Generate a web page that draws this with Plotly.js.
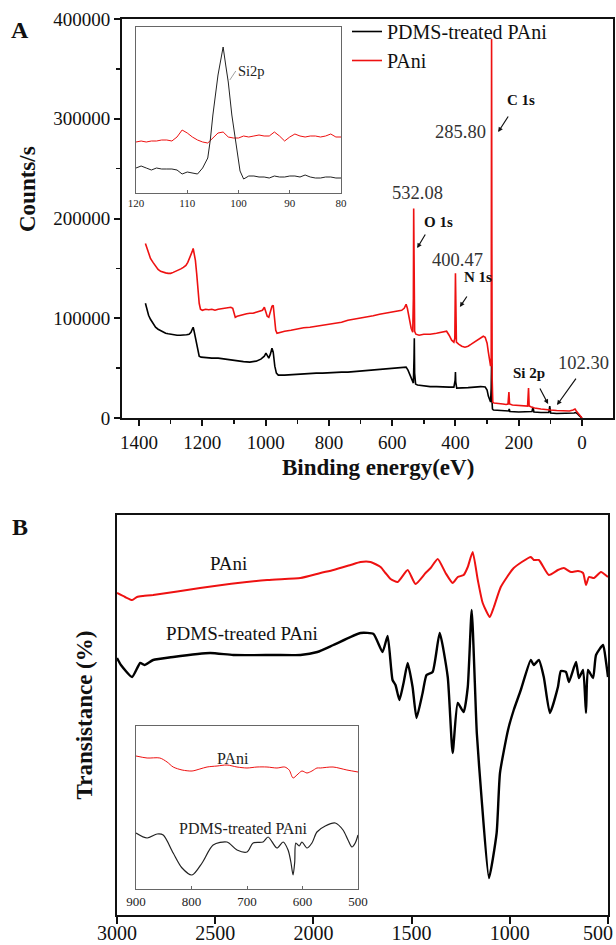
<!DOCTYPE html>
<html><head><meta charset="utf-8">
<script src="https://cdn.plot.ly/plotly-3.0.1.min.js"></script>
<style>html,body{margin:0;padding:0;background:#fff}#chart{width:616px;height:945px}</style>
</head><body><div id="chart"></div>
<script>
// ---------- Panel A: XPS survey (Binding energy eV, Counts/s) ----------
const xpsPAniX = [1380,1376,1370,1364,1356,1348,1340,1332,1324,1316,1308,1300,1292,1284,1276,1268,1260,1252,1246,1240,1236,1232,1229,1226,1222,1218,1214,1210,1206,1200,1190,1180,1170,1160,1150,1140,1130,1120,1110,1104,1100,1096,1090,1080,1070,1060,1050,1040,1030,1020,1010,1004,1000,995,990,985,980,976,972,968,964,955,940,920,900,880,860,840,820,800,780,760,740,720,700,680,660,640,620,600,580,570,562,556,552,546,540,535,533,532,531,529,525,515,500,480,460,440,428,420,412,405,402,400,399,397,390,380,370,360,350,340,330,320,312,306,300,296,292,289,287,286,285.8,285,284,282,278,270,260,250,240,234,231,229,220,200,180,172,169,167,160,150,130,110,100,80,60,40,28,22,18,10,4,0];
const xpsPAniY = [175000,171000,165000,160000,156000,152000,149000,147000,146000,145500,145000,145000,146000,147000,148000,149500,151000,153000,156000,160000,163000,167000,170000,166000,158000,145000,128000,115000,109000,108000,109000,108500,109000,108000,109000,109500,110000,110500,111000,110000,104000,101000,102000,103000,104000,104500,105000,105000,106000,107000,108000,111000,106000,102000,101000,106000,112000,113000,100000,88000,85000,86000,87000,88000,89500,90500,91000,92000,92500,94000,95000,96000,98000,99000,100000,101000,102500,104000,105000,106000,107000,108000,110000,114000,110000,100000,90000,86000,120000,210000,130000,87000,84000,83000,84000,84000,85000,86000,87000,83000,78000,76000,80000,145000,110000,76000,74000,72000,71000,72000,74000,76000,78000,80000,82000,81000,75000,66000,57000,52000,60000,250000,380000,200000,40000,16000,15000,14500,14000,14000,13500,14000,26000,14000,13000,12500,12000,12000,30000,12000,11000,10000,9000,8000,8000,7500,7000,7000,8000,9000,7000,4000,1500,0];
const xpsPDMSX = [1380,1376,1370,1364,1356,1348,1340,1332,1324,1316,1308,1300,1290,1280,1270,1260,1250,1242,1236,1232,1229,1226,1222,1218,1214,1210,1204,1190,1170,1150,1130,1110,1090,1070,1050,1030,1015,1004,999,995,990,985,980,976,971,966,960,940,920,900,880,860,840,820,800,780,760,740,720,700,680,660,640,620,600,580,565,556,550,543,537,533,531,530,529,526,520,500,480,460,440,420,405,401,400,399,396,380,360,340,320,306,300,296,292,289,287,285.8,285,283,280,260,240,232,230,228,200,170,158,155,152,130,105,102,99,80,60,40,25,20,15,8,2,0];
const xpsPDMSY = [115000,109000,103000,99000,95000,91000,89000,87500,86000,85000,84500,84000,83500,83000,83000,83000,83500,84000,86000,89000,91000,87000,80000,72000,65000,62000,61000,60500,60000,60000,59000,58000,57000,56500,56000,57000,59000,62000,65000,62000,60000,64000,70000,66000,52000,45000,43000,43000,43500,44000,44500,44500,45000,45000,45500,45500,46000,46000,46500,47000,47500,48000,48500,49000,49500,50000,50500,51000,48000,43000,37000,35000,60000,80000,45000,34000,33000,32000,31500,31500,31000,31000,31000,38000,46000,36000,30000,30000,30500,31000,31500,31000,28000,22000,18000,16000,30000,55000,20000,9000,8000,7500,7000,7000,9000,6500,6000,6000,6500,11000,6000,5500,5500,12000,5000,4500,4500,4500,5000,5500,4500,2000,500,0];

// Inset A: Si2p region (eV, intensity a.u.)
const siPAniX = [120,119,118,117,116,115,114,113,112,111,110,109,108,107,106,105,104,103,102,101,100,99,98,97,96,95,94,93,92,91,90,89,88,87,86,85,84,83,82,81,80];
const siPAniY = [51,52,51,52,52,53,53,52,56,63,60,56,53,51,50,55,60,61,56,55,55,57,56,57,58,57,57,61,57,52,56,59,57,56,57,57,56,57,59,56,56];
const siPDMSX = [120,119,118,117,116,115,114,113,112,111,110,109,108,107,106,105.5,105,104,103,102.5,102,101.3,100.7,100.1,99.7,99,98,97,96,95,94,93,92,91,90,89,88,87,86,85,84,83,82,81,80];
const siPDMSY = [25,27,25,23,25,24,24,24,23,19,21,20,19,25,35,53,78,118,146,128,111,78,55,33,22,14,17,17,16,16,15,17,16,16,17,17,16,18,16,15,15,16,16,15,15];

// ---------- Panel B: FTIR (wavenumber cm-1, transmittance a.u.) ----------
const irTickVals = [3000, 2500, 2000, 1500, 1000, 500];
const irTickText = ['3000', '2500', '2000', '1500', '1000', '500'];
const irPAniX = [3000,2959,2923,2898,2867,2816,2577,2235,2066,1964,1898,1811,1760,1709,1658,1633,1607,1571,1520,1480,1429,1403,1367,1327,1291,1265,1235,1214,1189,1163,1138,1102,1081,1046,980,893,878,852,801,755,725,689,653,627,612,597,571,536,500];
const irPAniY = [322,318,315,318,319,320,327,335,337,342,345,350,353,353,348,342,336,333,345,331,342,347,356,342,332,338,340,348,363,335,312,298,308,328,347,358,355,355,340,345,347,343,344,342,330,338,337,343,338];
const irPDMSX = [3000,2980,2923,2882,2860,2816,2714,2526,2408,2200,2066,1980,1898,1760,1694,1648,1622,1597,1582,1562,1541,1520,1495,1475,1444,1424,1393,1357,1316,1291,1265,1235,1214,1194,1168,1143,1106,1067,1050,1009,980,944,893,878,852,827,796,755,740,714,699,663,648,627,612,602,576,561,525,510,500];
const irPDMSY = [257,250,238,252,250,255,258,262,260,260,260,263,270,282,281,263,279,235,230,215,232,252,228,197,222,240,243,282,238,162,212,203,228,305,182,115,37,82,142,185,205,225,255,250,255,238,202,228,244,243,233,253,237,245,202,245,237,260,270,253,238];

// Inset B: 900-500 cm-1
const insPAniX = [900,880,857,844,833,817,799,785,772,754,736,718,700,682,664,646,632,624,617,610,601,592,583,574,568,545,520,500];
const insPAniY = [133,131,131,127,122,119,118,120,122,123,124,122,121,122,122,121,122,119,111,114,118,116,118,121,121,122,119,117];
const insPDMSX = [900,880,862,851,833,817,799,781,761,736,718,700,689,671,662,646,635,626,621,617,614,612,606,601,592,583,574,559,541,527,518,511,505,500];
const insPDMSY = [56,51,55,54,36,21,14,26,44,47,39,37,46,47,52,41,47,39,27,14,27,46,43,47,41,46,57,63,66,59,49,42,46,54];

const RED = '#ee1111';
const FONT = 'Liberation Serif, Times New Roman, serif';
const W = 616, H = 945;
const px = v => v / W, py = v => 1 - v / H;
const lastIdx = irTickText.length - 1;
// the last label sits at the page edge: it is drawn right-aligned as an annotation instead
const irTickShown = irTickText.map((t, i) => i === lastIdx ? '' : t);

const traces = [
  {x: xpsPDMSX, y: xpsPDMSY, xaxis: 'x', yaxis: 'y', mode: 'lines', name: 'PDMS-treated PAni', line: {color: '#000', width: 1.6}},
  {x: xpsPAniX, y: xpsPAniY, xaxis: 'x', yaxis: 'y', mode: 'lines', name: 'PAni', line: {color: RED, width: 1.6}},
  {x: siPAniX, y: siPAniY, xaxis: 'x2', yaxis: 'y2', mode: 'lines', showlegend: false, line: {color: RED, width: 1}},
  {x: siPDMSX, y: siPDMSY, xaxis: 'x2', yaxis: 'y2', mode: 'lines', showlegend: false, line: {color: '#222', width: 1}},
  {x: irPAniX, y: irPAniY, xaxis: 'x3', yaxis: 'y3', mode: 'lines', showlegend: false, line: {color: RED, width: 2, shape: 'spline', smoothing: 0.5}},
  {x: irPDMSX, y: irPDMSY, xaxis: 'x3', yaxis: 'y3', mode: 'lines', showlegend: false, line: {color: '#000', width: 2.4, shape: 'spline', smoothing: 0.5}},
  {x: insPAniX, y: insPAniY, xaxis: 'x4', yaxis: 'y4', mode: 'lines', showlegend: false, line: {color: RED, width: 1, shape: 'spline', smoothing: 0.8}},
  {x: insPDMSX, y: insPDMSY, xaxis: 'x4', yaxis: 'y4', mode: 'lines', showlegend: false, line: {color: '#222', width: 1.2, shape: 'spline', smoothing: 0.8}}
];

const tickFont = {family: FONT, size: 19, color: '#111'};
function label(text, x, y, size, color, angle) {
  return {text: text, xref: 'paper', yref: 'paper', x: px(x), y: py(y), xanchor: 'center', yanchor: 'middle',
          textangle: angle || 0, showarrow: false, font: {family: FONT, size: size, color: color || '#111'}};
}
function arrow(x, y, ax, ay) {
  return {text: '', xref: 'x', yref: 'y', x: x, y: y, ax: ax, ay: ay, showarrow: true,
          arrowhead: 2, arrowsize: 0.8, arrowwidth: 1.2, arrowcolor: '#111'};
}
const lastTickLabel = label(irTickText[lastIdx], 615, 933, 20);
lastTickLabel.xanchor = 'right';

const layout = {
  width: W, height: H,
  margin: {l: 0, r: 0, t: 0, b: 0},
  paper_bgcolor: '#fff', plot_bgcolor: 'rgba(0,0,0,0)',
  font: {family: FONT, color: '#111'},
  showlegend: true,
  legend: {x: px(347), y: py(12), xanchor: 'left', yanchor: 'top', bgcolor: 'rgba(0,0,0,0)',
           font: {family: FONT, size: 20, color: '#111'}, tracegroupgap: 0},
  xaxis: {domain: [px(122), px(613)], range: [1454, -98], anchor: 'y',
          showline: true, linewidth: 2, linecolor: '#111', mirror: true,
          ticks: 'outside', ticklen: 6, tickwidth: 2, tickcolor: '#111', dtick: 200, tick0: 0,
          minor: {ticks: 'outside', ticklen: 4, tickwidth: 1.5, dtick: 100, tickcolor: '#111'},
          showgrid: false, zeroline: false, tickfont: tickFont},
  yaxis: {domain: [py(418), py(19)], range: [0, 400000], anchor: 'x',
          showline: true, linewidth: 2, linecolor: '#111', mirror: true,
          ticks: 'outside', ticklen: 6, tickwidth: 2, tickcolor: '#111', dtick: 100000, tickformat: 'd',
          minor: {ticks: 'outside', ticklen: 4, tickwidth: 1.5, dtick: 50000, tickcolor: '#111'},
          showgrid: false, zeroline: false, tickfont: tickFont},
  xaxis2: {domain: [px(136), px(341)], range: [120, 80], anchor: 'y2',
           showline: true, linewidth: 1, linecolor: '#666', mirror: true,
           ticks: 'inside', ticklen: 3, tickwidth: 1, tickcolor: '#666', dtick: 10,
           showgrid: false, zeroline: false, tickfont: {family: FONT, size: 11, color: '#222'}},
  yaxis2: {domain: [py(193), py(27)], range: [0, 166], anchor: 'x2',
           showline: true, linewidth: 1, linecolor: '#666', mirror: true,
           ticks: '', showticklabels: false, showgrid: false, zeroline: false},
  xaxis3: {domain: [px(117), px(608)], range: [3000, 500], anchor: 'y3',
           showline: true, linewidth: 2, linecolor: '#111', mirror: true,
           ticks: 'outside', ticklen: 7, tickwidth: 2, tickcolor: '#111',
           tickmode: 'array', tickvals: irTickVals, ticktext: irTickShown,
           ticklabelstandoff: -8,
           showgrid: false, zeroline: false, tickfont: {family: FONT, size: 20, color: '#111'}},
  yaxis3: {domain: [py(915), py(515)], range: [0, 400], anchor: 'x3',
           showline: true, linewidth: 2, linecolor: '#111', mirror: true,
           ticks: '', showticklabels: false, showgrid: false, zeroline: false,
           title: {text: '<b>Transistance (%)</b>', font: {family: FONT, size: 23, color: '#111'}, standoff: 16}},
  xaxis4: {domain: [px(136), px(358)], range: [900, 500], anchor: 'y4',
           showline: true, linewidth: 1, linecolor: '#666', mirror: true,
           ticks: 'inside', ticklen: 3, tickwidth: 1, tickcolor: '#666', dtick: 100,
           showgrid: false, zeroline: false, tickfont: {family: FONT, size: 13, color: '#222'}},
  yaxis4: {domain: [py(889), py(726)], range: [0, 163], anchor: 'x4',
           showline: true, linewidth: 1, linecolor: '#666', mirror: true,
           ticks: '', showticklabels: false, showgrid: false, zeroline: false},
  annotations: [
    label('<b>A</b>', 20, 30, 24),
    label('<b>B</b>', 20, 527, 24),
    // panel A axis titles
    label('<b>Binding energy(eV)</b>', 378, 467, 23),
    label('<b>Counts/s</b>', 28, 189, 23, '#111', -90),
    // panel A peak labels
    label('285.80', 460, 132, 18.5, '#333'),
    label('<b>C 1s</b>', 521, 100, 15),
    label('532.08', 417, 193, 18.5, '#333'),
    label('<b>O 1s</b>', 438, 222, 15),
    label('400.47', 457, 260, 18.5, '#333'),
    label('<b>N 1s</b>', 478, 277, 15),
    label('<b>Si 2p</b>', 529, 373, 15),
    label('102.30', 583, 363, 18.5, '#333'),
    // arrows (head in data coords, tail offset in px)
    arrow(265, 286700, 11, -17),
    arrow(521, 170400, 9, -15),
    arrow(386, 111300, 8, -12),
    arrow(107, 14000, -9, -17),
    arrow(79, 13000, 20, -28),
    // inset A label
    {text: 'Si2p', xref: 'x2', yref: 'y2', x: 101.7, y: 113, ax: 6, ay: -9, xanchor: 'left', yanchor: 'middle',
     showarrow: true, arrowhead: 0, arrowwidth: 0.8, arrowcolor: '#888', font: {family: FONT, size: 14.5, color: '#222'}},
    // panel B labels
    label('PAni', 228, 563, 19),
    label('PDMS-treated PAni', 242, 633, 19),
    label('PAni', 233, 758, 16, '#222'),
    label('PDMS-treated PAni', 243, 828, 16, '#222'),
    lastTickLabel
  ]
};

Plotly.newPlot('chart', traces, layout, {staticPlot: true, displayModeBar: false});
</script>
</body></html>
